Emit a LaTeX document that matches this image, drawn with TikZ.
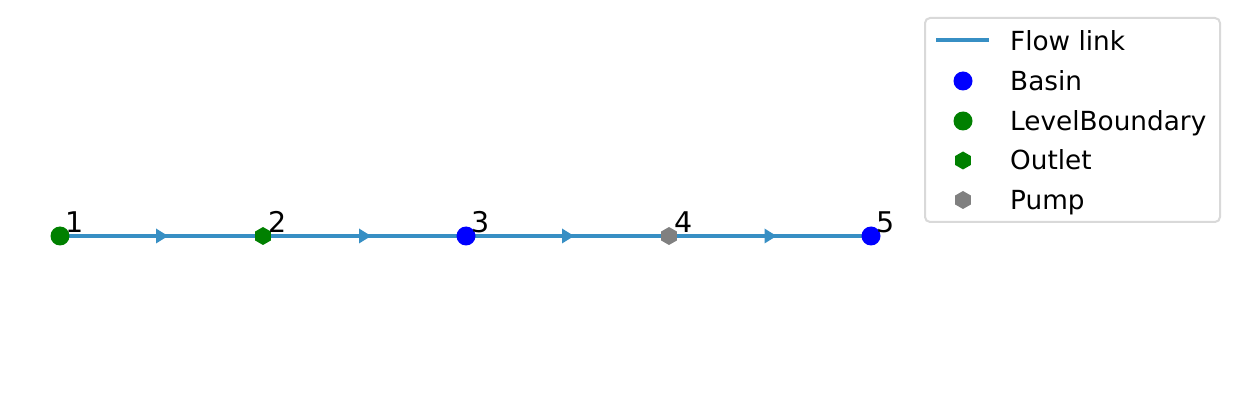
\documentclass[tikz,border=0pt]{standalone}
\usepackage{fontspec}
\setmainfont{DejaVu Sans}
\usetikzlibrary{shapes.geometric,calc}
\definecolor{flowblue}{RGB}{55,143,196}
\definecolor{lgray}{RGB}{217,217,217}
\definecolor{mgreen}{RGB}{0,128,0}
\definecolor{mblue}{RGB}{0,0,255}
\definecolor{mgray}{RGB}{128,128,128}
\tikzset{
  flow/.style={draw=flowblue, line width=4pt},
  midarrow/.style={fill=flowblue, draw=none},
  dotmark/.style={circle, fill=#1, draw=none, inner sep=0pt, minimum size=19pt},
  hexmark/.style={regular polygon, regular polygon sides=6, shape border rotate=30, fill=#1, draw=none, inner sep=0pt, minimum size=18pt},
  numlabel/.style={anchor=base west, inner sep=0pt, font=\fontsize{28.5}{33}\selectfont},
  legtext/.style={anchor=base west, inner sep=0pt, font=\fontsize{26.3}{31}\selectfont},
}
\begin{document}
\begin{tikzpicture}[x=1pt,y=-1pt]
\useasboundingbox (0,0) rectangle (1239,403);
\coordinate (p1) at (60,236);
\coordinate (p2) at (263,236);
\coordinate (p3) at (466,236);
\coordinate (p4) at (669,236);
\coordinate (p5) at (871,236);
\draw[flow] (p1) -- (p2);
\draw[flow] (p2) -- (p3);
\draw[flow] (p3) -- (p4);
\draw[flow] (p4) -- (p5);
\foreach \a/\b in {p1/p2,p2/p3,p3/p4,p4/p5}{
  \fill[midarrow] ($(\a)!0.5!(\b)$) ++(6.5,0) -- ++(-12,-7.5) -- ++(0,15) -- cycle;
}
\node[dotmark=mgreen] (n1) at (p1) {};
\node[hexmark=mgreen] (n2) at (p2) {};
\node[dotmark=mblue] (n3) at (p3) {};
\node[hexmark=mgray] (n4) at (p4) {};
\node[dotmark=mblue] (n5) at (p5) {};
\node[numlabel] (l1) at (65,233) {1};
\node[numlabel] (l2) at (268,233) {2};
\node[numlabel] (l3) at (471,233) {3};
\node[numlabel] (l4) at (674,233) {4};
\node[numlabel] (l5) at (876,233) {5};
% legend
\draw[draw=lgray, line width=2pt, fill=white, rounded corners=5pt] (925,18) rectangle (1220,222);
\coordinate (la) at (936,40);
\coordinate (lb) at (989,40);
\draw[flow] (la) -- (lb);
\node[dotmark=mblue] (m1) at (963,81) {};
\node[dotmark=mgreen] (m2) at (963,121) {};
\node[hexmark=mgreen] (m3) at (963,160.5) {};
\node[hexmark=mgray] (m4) at (963,200) {};
\node[legtext] (t0) at (1010,50.5) {Flow link};
\node[legtext] (t1) at (1010,90.5) {Basin};
\node[legtext] (t2) at (1010,130.5) {LevelBoundary};
\node[legtext] (t3) at (1010,169.5) {Outlet};
\node[legtext] (t4) at (1010,209.5) {Pump};
\end{tikzpicture}
\end{document}
